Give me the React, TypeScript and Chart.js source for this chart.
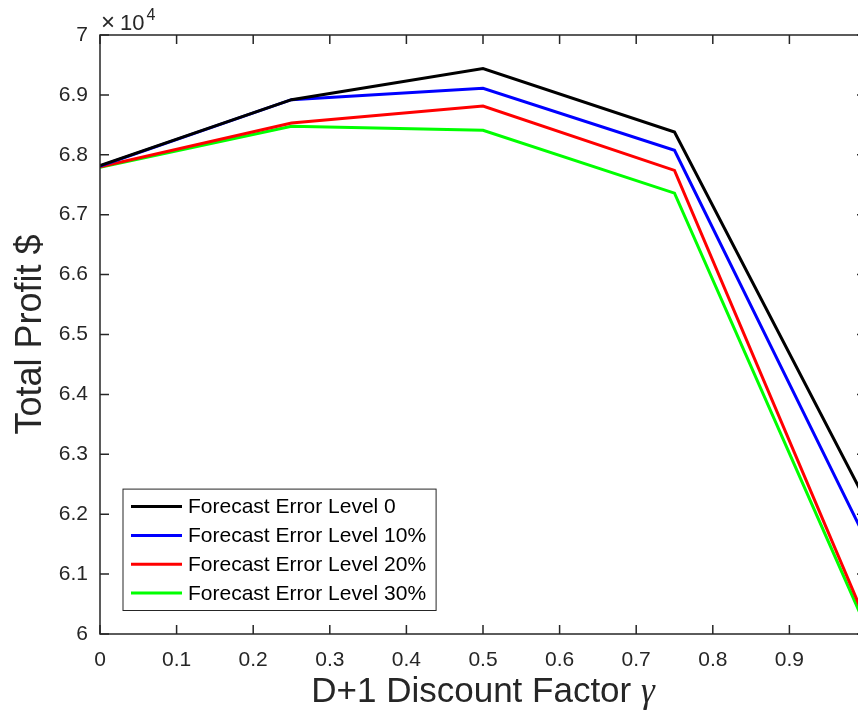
import React, { useEffect, useRef } from 'react';
import { Chart, registerables } from 'chart.js';

Chart.register(...registerables);

// ---- data ----
const gammaValues = [0, 0.25, 0.5, 0.75, 1];
const profitLevel0 = [67820, 68920, 69440, 68380, 62220];
const profitLevel10 = [67810, 68920, 69110, 68075, 61575];
const profitLevel20 = [67800, 68530, 68815, 67740, 60215];
const profitLevel30 = [67790, 68475, 68410, 67360, 60120];
const seriesLabels = [
  'Forecast Error Level 0',
  'Forecast Error Level 10%',
  'Forecast Error Level 20%',
  'Forecast Error Level 30%',
];
const seriesColors = ['#000000', '#0000ff', '#ff0000', '#00ff00'];
const xAxisTitle = 'D+1 Discount Factor ';
const xAxisSymbol = 'γ';
const yAxisTitle = 'Total Profit $';
const exponentBase = '10';
const exponentPower = '4';
const yScaleFactor = 10000;

const FONT = '"Liberation Sans", Arial, Helvetica, sans-serif';
const AXIS_COLOR = '#262626';

const matlabDecor = {
  id: 'matlabDecor',
  afterDraw(chart: any) {
    const { ctx, chartArea: a, scales } = chart;
    const xs = scales.x;
    const ys = scales.y;
    ctx.save();
    // frame
    ctx.strokeStyle = AXIS_COLOR;
    ctx.lineWidth = 1.5;
    ctx.strokeRect(a.left, a.top, a.right - a.left, a.bottom - a.top);
    const tl = 9;
    ctx.beginPath();
    xs.ticks.forEach((t: any) => {
      const px = xs.getPixelForValue(t.value);
      ctx.moveTo(px, a.bottom);
      ctx.lineTo(px, a.bottom - tl);
      ctx.moveTo(px, a.top);
      ctx.lineTo(px, a.top + tl);
    });
    ys.ticks.forEach((t: any) => {
      const py = ys.getPixelForValue(t.value);
      ctx.moveTo(a.left, py);
      ctx.lineTo(a.left + tl, py);
      ctx.moveTo(a.right, py);
      ctx.lineTo(a.right - tl, py);
    });
    ctx.stroke();

    // exponent label
    ctx.fillStyle = AXIS_COLOR;
    ctx.textBaseline = 'alphabetic';
    ctx.textAlign = 'left';
    ctx.font = `24px ${FONT}`;
    ctx.fillText('×', a.left + 1, a.top - 5);
    ctx.font = `22px ${FONT}`;
    ctx.fillText(exponentBase, a.left + 20, a.top - 5);
    const bw = ctx.measureText(exponentBase).width;
    ctx.font = `16px ${FONT}`;
    ctx.fillText(exponentPower, a.left + 22 + bw, a.top - 15);

    // x title
    const tf = 35;
    ctx.font = `${tf}px ${FONT}`;
    const w1 = ctx.measureText(xAxisTitle).width;
    ctx.font = `italic ${tf}px "Liberation Serif", "DejaVu Serif", serif`;
    const w2 = ctx.measureText(xAxisSymbol).width;
    const cx = (a.left + a.right) / 2;
    const x0 = cx - (w1 + w2) / 2;
    ctx.textBaseline = 'alphabetic';
    ctx.font = `${tf}px ${FONT}`;
    ctx.fillText(xAxisTitle, x0, a.bottom + 68);
    ctx.font = `italic ${tf}px "Liberation Serif", "DejaVu Serif", serif`;
    ctx.fillText(xAxisSymbol, x0 + w1, a.bottom + 68);

    // y title
    ctx.save();
    ctx.translate(31, (a.top + a.bottom) / 2);
    ctx.rotate(-Math.PI / 2);
    ctx.textAlign = 'center';
    ctx.textBaseline = 'middle';
    ctx.font = `36px ${FONT}`;
    ctx.fillText(yAxisTitle, 0, 0);
    ctx.restore();

    // legend
    const ds = chart.data.datasets;
    ctx.font = `21px ${FONT}`;
    let tw = 0;
    ds.forEach((d: any) => {
      tw = Math.max(tw, ctx.measureText(d.label).width);
    });
    const rowH = 28.8;
    const padL = 8, lineLen = 51, gap = 6, padR = 10, padV = 17.5;
    const bwid = padL + lineLen + gap + tw + padR;
    const bh = padV * 2 + rowH * (ds.length - 1);
    const bx = a.left + 23;
    const by = a.bottom - 23.5 - bh;
    ctx.fillStyle = '#ffffff';
    ctx.fillRect(bx, by, bwid, bh);
    ctx.strokeStyle = AXIS_COLOR;
    ctx.lineWidth = 1;
    ctx.strokeRect(bx, by, bwid, bh);
    ds.forEach((d: any, i: number) => {
      const ry = by + padV + i * rowH;
      ctx.strokeStyle = d.borderColor;
      ctx.lineWidth = 3;
      ctx.beginPath();
      ctx.moveTo(bx + padL, ry);
      ctx.lineTo(bx + padL + lineLen, ry);
      ctx.stroke();
      ctx.fillStyle = '#000000';
      ctx.textAlign = 'left';
      ctx.textBaseline = 'middle';
      ctx.fillText(d.label, bx + padL + lineLen + gap, ry + 1);
    });
    ctx.restore();
  },
};

export default function App() {
  const canvasRef = useRef<HTMLCanvasElement | null>(null);

  useEffect(() => {
    const canvas = canvasRef.current;
    if (!canvas) return;
    const seriesValues = [profitLevel0, profitLevel10, profitLevel20, profitLevel30];
    const chart = new Chart(canvas, {
      type: 'line',
      data: {
        datasets: seriesValues.map((vals, i) => ({
          label: seriesLabels[i],
          data: gammaValues.map((g, j) => ({ x: g, y: vals[j] })),
          borderColor: seriesColors[i],
          backgroundColor: seriesColors[i],
          borderWidth: 3,
          pointRadius: 0,
          tension: 0,
          fill: false,
        })),
      },
      options: {
        responsive: false,
        animation: false,
        devicePixelRatio: 1,
        layout: { padding: { left: 0, top: 35, right: 14, bottom: 0 } },
        plugins: {
          legend: { display: false },
          tooltip: { enabled: false },
        },
        scales: {
          x: {
            type: 'linear',
            min: 0,
            max: 1,
            grid: { display: false, drawTicks: false },
            border: { display: false },
            ticks: {
              stepSize: 0.1,
              padding: 14,
              color: AXIS_COLOR,
              font: { family: FONT, size: 21 },
              maxRotation: 0,
              autoSkip: false,
              // the "1" label sits beyond the cropped right edge of the figure
              callback: (v: any) => (Number(v) >= 1 ? '' : String(Math.round(Number(v) * 10) / 10)),
            },
            afterFit: (s: any) => {
              s.height = 84;
              s.paddingRight = 0;
            },
          },
          y: {
            type: 'linear',
            min: 60000,
            max: 70000,
            grid: { display: false, drawTicks: false },
            border: { display: false },
            ticks: {
              stepSize: 1000,
              padding: 12,
              color: AXIS_COLOR,
              font: { family: FONT, size: 21 },
              callback: (v: any) => String(Math.round((Number(v) / yScaleFactor) * 10) / 10),
            },
            afterFit: (s: any) => {
              s.width = 100;
            },
          },
        },
      },
      plugins: [matlabDecor],
    });
    return () => chart.destroy();
  }, []);

  return (
    <div
      style={{
        position: 'fixed',
        left: 0,
        top: 0,
        width: 858,
        height: 718,
        overflow: 'hidden',
        background: '#ffffff',
      }}
    >
      <canvas ref={canvasRef} width={880} height={718} style={{ width: 880, height: 718, display: 'block' }} />
    </div>
  );
}
